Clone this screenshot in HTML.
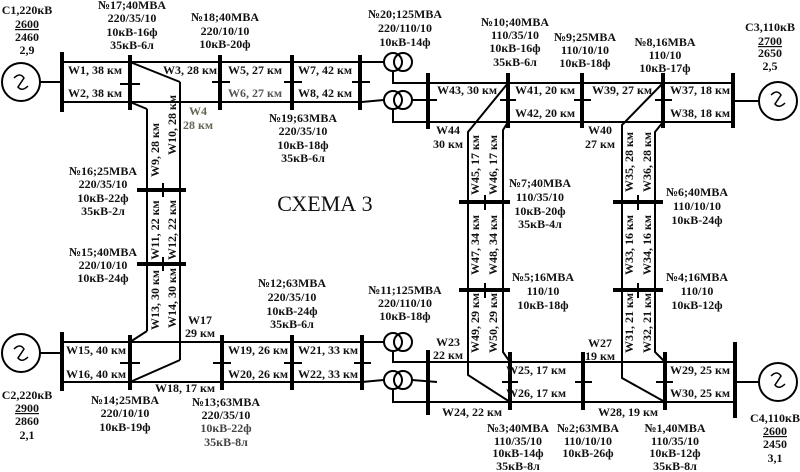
<!DOCTYPE html>
<html><head><meta charset="utf-8"><style>
html,body{margin:0;padding:0;background:#fff;}
svg{display:block;}
text{font-family:"Liberation Serif",serif;font-weight:bold;font-size:12px;fill:#111;}
.m{text-anchor:middle;}
</style></head><body>
<svg width="800" height="472" viewBox="0 0 800 472" xmlns="http://www.w3.org/2000/svg">
<g stroke="#000" fill="none" stroke-width="2">
<!-- top-left generator -->
<circle cx="21" cy="82" r="19"/>
<path d="M14 78 Q20 72 24 78 L18 87 Q22 92 28 86" stroke-width="1.5"/>
<line x1="40" y1="82" x2="62" y2="82"/>
<line x1="62" y1="62" x2="362" y2="62"/>
<line x1="62" y1="102" x2="362" y2="102"/>
<line x1="130" y1="62" x2="180" y2="82"/>
<line x1="180" y1="82" x2="180" y2="360"/>
<line x1="130" y1="102" x2="147" y2="109"/>
<line x1="147" y1="109" x2="147" y2="331"/>
<line x1="147" y1="331" x2="130" y2="342"/>
<line x1="180" y1="360" x2="130" y2="382"/>
<!-- ticks -->
<line x1="120" y1="84" x2="140" y2="84"/>
<line x1="212" y1="82" x2="230" y2="82"/>
<line x1="284" y1="82" x2="302" y2="82"/>
<line x1="352" y1="82" x2="370" y2="82"/>
<line x1="163" y1="183" x2="163" y2="197"/>
<line x1="163" y1="257" x2="163" y2="271"/>
<!-- top transformers -->
<line x1="362" y1="62" x2="384" y2="62"/>
<line x1="362" y1="102" x2="384" y2="100"/>
<circle cx="393" cy="62" r="9"/><circle cx="403" cy="62" r="9"/>
<circle cx="393" cy="100" r="9"/><circle cx="403" cy="100" r="9"/>
<polyline points="393,71 393,83 428,83"/>
<polyline points="393,109 393,122 428,122"/>
<line x1="412" y1="100" x2="437" y2="100"/>
<!-- top right -->
<line x1="428" y1="83" x2="733" y2="83"/>
<line x1="428" y1="122" x2="733" y2="122"/>
<line x1="500" y1="100" x2="516" y2="100"/>
<line x1="574" y1="100" x2="591" y2="100"/>
<line x1="655" y1="100" x2="672" y2="100"/>
<line x1="733" y1="101" x2="758" y2="101"/>
<circle cx="778" cy="101" r="19"/>
<path d="M771 95 Q777 89 781 95 L775 104 Q779 109 785 103" stroke-width="1.5"/>
<polyline points="508,83 468,132 468,375 510,402"/>
<polyline points="508,122 503,130 503,352 510,362"/>
<polyline points="663,83 622,125 622,378 665,402"/>
<polyline points="663,122 655,132 655,352 665,362"/>
<line x1="485" y1="195" x2="485" y2="210"/>
<line x1="485" y1="283" x2="485" y2="298"/>
<line x1="638" y1="195" x2="638" y2="210"/>
<line x1="638" y1="283" x2="638" y2="298"/>
<!-- bottom left -->
<circle cx="21" cy="353" r="19"/>
<path d="M14 349 Q20 343 24 349 L18 358 Q22 363 28 357" stroke-width="1.5"/>
<line x1="40" y1="353" x2="62" y2="353"/>
<line x1="62" y1="342" x2="362" y2="342"/>
<line x1="62" y1="382" x2="362" y2="382"/>
<line x1="120" y1="363" x2="140" y2="363"/>
<line x1="213" y1="363" x2="231" y2="363"/>
<line x1="284" y1="363" x2="302" y2="363"/>
<line x1="354" y1="363" x2="371" y2="363"/>
<!-- bottom transformers -->
<line x1="362" y1="342" x2="384" y2="342"/>
<line x1="362" y1="382" x2="384" y2="380"/>
<circle cx="393" cy="342" r="9"/><circle cx="403" cy="342" r="9"/>
<circle cx="393" cy="380" r="9"/><circle cx="403" cy="380" r="9"/>
<polyline points="393,351 393,362 428,362"/>
<polyline points="393,389 393,402 428,402"/>
<line x1="412" y1="380" x2="437" y2="382"/>
<!-- bottom right -->
<line x1="428" y1="362" x2="735" y2="362"/>
<line x1="428" y1="402" x2="735" y2="402"/>
<line x1="502" y1="382" x2="518" y2="382"/>
<line x1="575" y1="382" x2="592" y2="382"/>
<line x1="656" y1="382" x2="673" y2="382"/>
<line x1="735" y1="382" x2="758" y2="382"/>
<circle cx="778" cy="382" r="19"/>
<path d="M771 376 Q777 370 781 376 L775 385 Q779 390 785 384" stroke-width="1.5"/>
</g>
<!-- buses -->
<g stroke="#000" stroke-width="4">
<line x1="62" y1="52" x2="62" y2="112"/>
<line x1="130" y1="55" x2="130" y2="110"/>
<line x1="220" y1="55" x2="220" y2="110"/>
<line x1="292" y1="55" x2="292" y2="110"/>
<line x1="360" y1="55" x2="360" y2="110"/>
<line x1="428" y1="73" x2="428" y2="129"/>
<line x1="508" y1="73" x2="508" y2="128"/>
<line x1="582" y1="73" x2="582" y2="128"/>
<line x1="663" y1="73" x2="663" y2="128"/>
<line x1="733" y1="73" x2="733" y2="128"/>
<line x1="137" y1="190" x2="186" y2="190"/>
<line x1="137" y1="264" x2="186" y2="264"/>
<line x1="459" y1="202" x2="510" y2="202"/>
<line x1="459" y1="290" x2="510" y2="290"/>
<line x1="613" y1="202" x2="663" y2="202"/>
<line x1="613" y1="290" x2="663" y2="290"/>
<line x1="62" y1="332" x2="62" y2="391"/>
<line x1="130" y1="335" x2="130" y2="390"/>
<line x1="222" y1="335" x2="222" y2="390"/>
<line x1="292" y1="335" x2="292" y2="390"/>
<line x1="362" y1="335" x2="362" y2="390"/>
<line x1="428" y1="350" x2="428" y2="415"/>
<line x1="510" y1="352" x2="510" y2="410"/>
<line x1="583" y1="352" x2="583" y2="410"/>
<line x1="665" y1="352" x2="665" y2="410"/>
<line x1="735" y1="342" x2="735" y2="418"/>
</g>
<!-- texts -->
<g class="m">
<text class="m" x="27" y="14">C1,220кВ</text>
<text class="m" x="27" y="28" text-decoration="underline">2600</text>
<text class="m" x="27" y="41">2460</text>
<text class="m" x="27" y="54">2,9</text>
<text class="m" x="132" y="9">№17;40MBA</text>
<text class="m" x="132" y="22">220/35/10</text>
<text class="m" x="132" y="36">10кВ-16ф</text>
<text class="m" x="132" y="49">35кВ-6л</text>
<text class="m" x="225" y="21">№18;40MBA</text>
<text class="m" x="225" y="35">220/10/10</text>
<text class="m" x="225" y="48">10кВ-20ф</text>
<text class="m" x="303" y="122">№19;63MBA</text>
<text class="m" x="303" y="135">220/35/10</text>
<text class="m" x="303" y="149">10кВ-18ф</text>
<text class="m" x="303" y="162">35кВ-6л</text>
<text class="m" x="405" y="18">№20;125MBA</text>
<text class="m" x="405" y="32">220/110/10</text>
<text class="m" x="405" y="46">10кВ-14ф</text>
<text class="m" x="95" y="74">W1, 38 км</text>
<text class="m" x="95" y="97">W2, 38 км</text>
<text class="m" x="190" y="74">W3, 28 км</text>
<text class="m" x="255" y="74">W5, 27 км</text>
<text class="m" x="255" y="97" style="fill:#555">W6, 27 км</text>
<text class="m" x="325" y="74">W7, 42 км</text>
<text class="m" x="325" y="97">W8, 42 км</text>
<text class="m" x="198" y="115" style="fill:#665">W4</text>
<text class="m" x="198" y="129" style="fill:#665">28 км</text>
<text class="m" x="103" y="175">№16;25MBA</text>
<text class="m" x="103" y="188">220/35/10</text>
<text class="m" x="103" y="202">10кВ-22ф</text>
<text class="m" x="103" y="215">35кВ-2л</text>
<text class="m" x="103" y="256">№15;40MBA</text>
<text class="m" x="103" y="269">220/10/10</text>
<text class="m" x="103" y="282">10кВ-24ф</text>
<text class="m" transform="translate(159,150) rotate(-90)">W9, 28 км</text>
<text class="m" transform="translate(176,125) rotate(-90)">W10, 28 км</text>
<text class="m" transform="translate(159,230) rotate(-90)">W11, 22 км</text>
<text class="m" transform="translate(176,230) rotate(-90)">W12, 22 км</text>
<text class="m" transform="translate(159,300) rotate(-90)">W13, 30 км</text>
<text class="m" transform="translate(176,298) rotate(-90)">W14, 30 км</text>
<text class="m" x="200" y="324">W17</text>
<text class="m" x="200" y="337">29 км</text>
<text class="m" x="292" y="287">№12;63MBA</text>
<text class="m" x="292" y="301">220/35/10</text>
<text class="m" x="292" y="315">10кВ-24ф</text>
<text class="m" x="292" y="328">35кВ-6л</text>
<text class="m" x="405" y="294">№11;125MBA</text>
<text class="m" x="405" y="307">220/110/10</text>
<text class="m" x="405" y="320">10кВ-18ф</text>
<text class="m" x="96" y="354">W15, 40 км</text>
<text class="m" x="96" y="378">W16, 40 км</text>
<text class="m" x="258" y="354">W19, 26 км</text>
<text class="m" x="258" y="378">W20, 26 км</text>
<text class="m" x="328" y="354">W21, 33 км</text>
<text class="m" x="328" y="378">W22, 33 км</text>
<text class="m" x="185" y="392">W18, 17 км</text>
<text class="m" x="27" y="399">C2,220кВ</text>
<text class="m" x="27" y="412" text-decoration="underline">2900</text>
<text class="m" x="27" y="425">2860</text>
<text class="m" x="27" y="439">2,1</text>
<text class="m" x="125" y="404">№14;25MBA</text>
<text class="m" x="125" y="417">220/10/10</text>
<text class="m" x="125" y="431">10кВ-19ф</text>
<text class="m" x="226" y="406">№13;63MBA</text>
<text class="m" x="226" y="419">220/35/10</text>
<text class="m" x="226" y="432" style="fill:#444">10кВ-22ф</text>
<text class="m" x="226" y="446" style="fill:#444">35кВ-8л</text>
<text class="m" x="515" y="26">№10;40MBA</text>
<text class="m" x="515" y="39">110/35/10</text>
<text class="m" x="515" y="52">10кВ-16ф</text>
<text class="m" x="515" y="66">35кВ-6л</text>
<text class="m" x="585" y="41">№9;25MBA</text>
<text class="m" x="585" y="54">110/10/10</text>
<text class="m" x="585" y="67">10кВ-18ф</text>
<text class="m" x="665" y="46">№8,16MBA</text>
<text class="m" x="665" y="59">110/10</text>
<text class="m" x="665" y="72">10кВ-17ф</text>
<text class="m" x="770" y="31">C3,110кВ</text>
<text class="m" x="770" y="45" text-decoration="underline">2700</text>
<text class="m" x="770" y="57">2650</text>
<text class="m" x="770" y="70">2,5</text>
<text class="m" x="467" y="94">W43, 30 км</text>
<text class="m" x="545" y="94">W41, 20 км</text>
<text class="m" x="545" y="117">W42, 20 км</text>
<text class="m" x="622" y="94">W39, 27 км</text>
<text class="m" x="700" y="94">W37, 18 км</text>
<text class="m" x="700" y="117">W38, 18 км</text>
<text class="m" x="448" y="134">W44</text>
<text class="m" x="448" y="148">30 км</text>
<text class="m" x="600" y="134">W40</text>
<text class="m" x="600" y="148">27 км</text>
<text class="m" transform="translate(479,165) rotate(-90)">W45, 17 км</text>
<text class="m" transform="translate(497,165) rotate(-90)">W46, 17 км</text>
<text class="m" transform="translate(633,162) rotate(-90)">W35, 28 км</text>
<text class="m" transform="translate(651,162) rotate(-90)">W36, 28 км</text>
<text class="m" transform="translate(479,245) rotate(-90)">W47, 34 км</text>
<text class="m" transform="translate(497,245) rotate(-90)">W48, 34 км</text>
<text class="m" transform="translate(633,245) rotate(-90)">W33, 16 км</text>
<text class="m" transform="translate(651,245) rotate(-90)">W34, 16 км</text>
<text class="m" transform="translate(479,323) rotate(-90)">W49, 29 км</text>
<text class="m" transform="translate(497,323) rotate(-90)">W50, 29 км</text>
<text class="m" transform="translate(633,323) rotate(-90)">W31, 21 км</text>
<text class="m" transform="translate(651,323) rotate(-90)">W32, 21 км</text>
<text class="m" x="540" y="187">№7;40MBA</text>
<text class="m" x="540" y="201">110/35/10</text>
<text class="m" x="540" y="215">10кВ-20ф</text>
<text class="m" x="540" y="228">35кВ-4л</text>
<text class="m" x="697" y="196">№6;40MBA</text>
<text class="m" x="697" y="210">110/10/10</text>
<text class="m" x="697" y="224">10кВ-24ф</text>
<text class="m" x="543" y="281">№5;16MBA</text>
<text class="m" x="543" y="295">110/10</text>
<text class="m" x="543" y="309">10кВ-18ф</text>
<text class="m" x="697" y="281">№4;16MBA</text>
<text class="m" x="697" y="295">110/10</text>
<text class="m" x="697" y="309">10кВ-12ф</text>
<text class="m" x="448" y="346">W23</text>
<text class="m" x="448" y="359">22 км</text>
<text class="m" x="600" y="347">W27</text>
<text class="m" x="600" y="360">19 км</text>
<text class="m" x="536" y="374">W25, 17 км</text>
<text class="m" x="536" y="397">W26, 17 км</text>
<text class="m" x="700" y="374">W29, 25 км</text>
<text class="m" x="700" y="397">W30, 25 км</text>
<text class="m" x="472" y="416">W24, 22 км</text>
<text class="m" x="628" y="416">W28, 19 км</text>
<text class="m" x="518" y="432">№3;40MBA</text>
<text class="m" x="518" y="445">110/35/10</text>
<text class="m" x="518" y="457">10кВ-14ф</text>
<text class="m" x="518" y="470">35кВ-8л</text>
<text class="m" x="588" y="432">№2;63MBA</text>
<text class="m" x="588" y="445">110/10/10</text>
<text class="m" x="588" y="457">10кВ-26ф</text>
<text class="m" x="675" y="432">№1,40MBA</text>
<text class="m" x="675" y="445">110/35/10</text>
<text class="m" x="675" y="457">10кВ-12ф</text>
<text class="m" x="675" y="470">35кВ-8л</text>
<text class="m" x="775" y="422">C4,110кВ</text>
<text class="m" x="775" y="435" text-decoration="underline">2600</text>
<text class="m" x="775" y="448">2450</text>
<text class="m" x="775" y="462">3,1</text>
<text class="m" x="325" y="211" style="font-weight:normal;font-size:22px">СХЕМА 3</text>
</g>
</svg>
</body></html>
